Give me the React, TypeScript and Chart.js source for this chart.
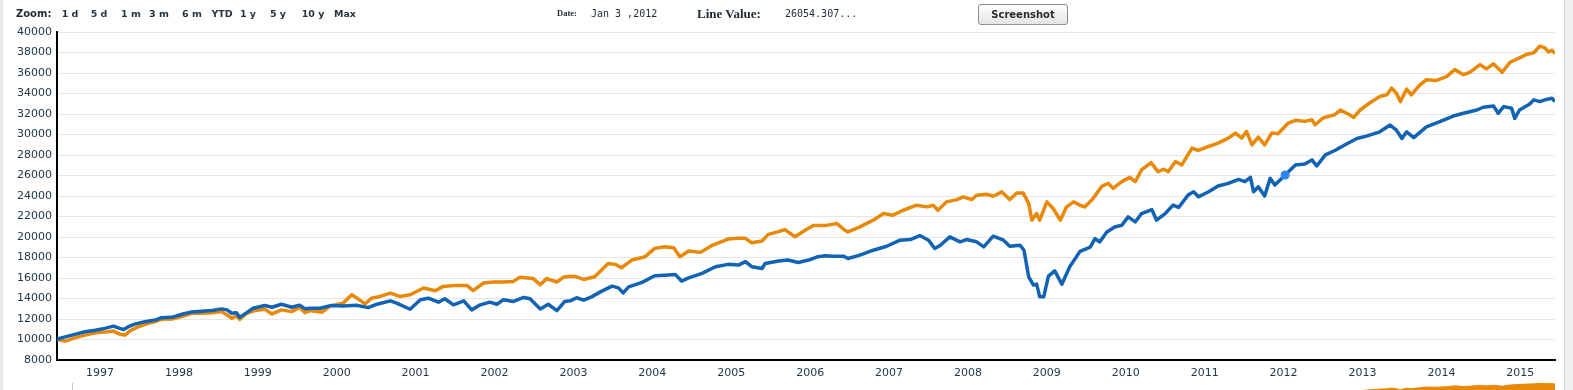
import React, { useEffect, useRef } from "react";
import { Chart, registerables } from "chart.js";

Chart.register(...registerables);

// ---- data (decimal years / index values) ----
const blueDates = [
  1996.45, 1996.56, 1996.68, 1996.81, 1996.94, 1997.06, 1997.17, 1997.25, 1997.3, 1997.36, 1997.44, 1997.57, 1997.7, 1997.78, 1997.91,
  1998.04, 1998.16, 1998.29, 1998.42, 1998.54, 1998.61, 1998.67, 1998.73, 1998.77, 1998.86, 1998.94, 1999.09, 1999.18, 1999.3, 1999.43,
  1999.53, 1999.6, 1999.66, 1999.79, 1999.92, 2000.08, 2000.25, 2000.4, 2000.51, 2000.68, 2000.76, 2000.93, 2001.06, 2001.16, 2001.29,
  2001.37, 2001.48, 2001.61, 2001.71, 2001.82, 2001.94, 2002.03, 2002.11, 2002.24, 2002.37, 2002.45, 2002.58, 2002.68, 2002.79, 2002.89,
  2002.96, 2003.04, 2003.13, 2003.23, 2003.36, 2003.49, 2003.57, 2003.63, 2003.7, 2003.87, 2004.03, 2004.16, 2004.29, 2004.37, 2004.46,
  2004.63, 2004.8, 2004.96, 2005.09, 2005.18, 2005.26, 2005.39, 2005.43, 2005.6, 2005.72, 2005.85, 2005.98, 2006.1, 2006.19, 2006.29,
  2006.42, 2006.48, 2006.63, 2006.8, 2006.97, 2007.14, 2007.27, 2007.39, 2007.5, 2007.58, 2007.65, 2007.77, 2007.9, 2007.98, 2008.11,
  2008.2, 2008.32, 2008.45, 2008.53, 2008.66, 2008.71, 2008.77, 2008.83, 2008.87, 2008.91, 2008.96, 2009.02, 2009.1, 2009.19, 2009.29,
  2009.42, 2009.55, 2009.61, 2009.67, 2009.76, 2009.86, 2009.95, 2010.03, 2010.12, 2010.2, 2010.33, 2010.39, 2010.5, 2010.6, 2010.67,
  2010.79, 2010.86, 2010.92, 2011.05, 2011.17, 2011.3, 2011.43, 2011.51, 2011.58, 2011.62, 2011.68, 2011.76, 2011.83, 2011.89, 2012.02,
  2012.15, 2012.27, 2012.36, 2012.42, 2012.53, 2012.65, 2012.78, 2012.93, 2013.05, 2013.22, 2013.35, 2013.43, 2013.5, 2013.56, 2013.65,
  2013.81, 2013.98, 2014.15, 2014.28, 2014.45, 2014.53, 2014.66, 2014.72, 2014.79, 2014.89, 2014.93, 2014.99, 2015.12, 2015.17, 2015.25,
  2015.31, 2015.4, 2015.44,
];
const blueValues = [
  10030, 10260, 10500, 10750, 10900, 11080, 11310, 11080, 10980, 11250, 11500, 11740, 11900, 12130, 12160,
  12460, 12690, 12760, 12820, 12990, 12890, 12560, 12620, 12160, 12620, 13050, 13310, 13150, 13440, 13150,
  13350, 12990, 13050, 13050, 13310, 13280, 13340, 13110, 13440, 13770, 13540, 12950, 13870, 14030, 13640,
  13970, 13380, 13770, 12890, 13380, 13640, 13440, 13870, 13710, 14100, 13970, 12980, 13440, 12820, 13710,
  13770, 14070, 13840, 14160, 14720, 15210, 15040, 14550, 15140, 15570, 16220, 16280, 16350, 15700, 16020,
  16450, 17100, 17330, 17260, 17590, 17100, 16930, 17420, 17650, 17750, 17520, 17750, 18080, 18170, 18130,
  18130, 17900, 18230, 18710, 19100, 19690, 19750, 20140, 19690, 18880, 19200, 20010, 19530, 19750, 19530,
  19040, 20080, 19690, 19100, 19200, 18710, 16110, 15300, 15400, 14160, 14160, 16180, 16700, 15400, 17090,
  18600, 19020, 19840, 19510, 20490, 20980, 21140, 21960, 21470, 22290, 22680, 21640, 22290, 23110, 22880,
  24090, 24410, 23920, 24410, 24970, 25230, 25620, 25400, 25820, 24410, 24900, 23990, 25720, 25070, 26054,
  27030, 27130, 27520, 26930, 28010, 28440, 29000, 29610, 29840, 30260, 30920, 30430, 29610, 30260, 29700,
  30750, 31250, 31800, 32070, 32390, 32660, 32790, 32070, 32720, 32560, 31570, 32390, 32980, 33380, 33210,
  33380, 33540, 33210,
];

const orangeDates = [
  1996.45, 1996.56, 1996.68, 1996.81, 1996.94, 1997.06, 1997.17, 1997.25, 1997.32, 1997.38, 1997.49, 1997.61, 1997.7, 1997.78, 1997.91,
  1998.04, 1998.16, 1998.29, 1998.42, 1998.54, 1998.61, 1998.67, 1998.73, 1998.77, 1998.86, 1998.96, 1999.09, 1999.18, 1999.3, 1999.43,
  1999.53, 1999.6, 1999.66, 1999.81, 1999.92, 2000.08, 2000.19, 2000.27, 2000.36, 2000.44, 2000.55, 2000.68, 2000.8, 2000.93, 2001.1,
  2001.25, 2001.35, 2001.52, 2001.65, 2001.73, 2001.86, 2001.99, 2002.11, 2002.24, 2002.32, 2002.49, 2002.58, 2002.66, 2002.79, 2002.87,
  2002.96, 2003.02, 2003.13, 2003.27, 2003.44, 2003.53, 2003.61, 2003.74, 2003.91, 2004.03, 2004.16, 2004.27, 2004.35, 2004.46, 2004.61,
  2004.75, 2004.96, 2005.09, 2005.18, 2005.26, 2005.39, 2005.47, 2005.6, 2005.68, 2005.81, 2005.94, 2006.04, 2006.19, 2006.34, 2006.44,
  2006.48, 2006.63, 2006.8, 2006.93, 2007.05, 2007.18, 2007.35, 2007.48, 2007.56, 2007.62, 2007.73, 2007.86, 2007.94, 2008.05, 2008.11,
  2008.24, 2008.32, 2008.43, 2008.53, 2008.62, 2008.7, 2008.77, 2008.81, 2008.87, 2008.91, 2009.0, 2009.08, 2009.17, 2009.25, 2009.34,
  2009.42, 2009.48, 2009.57, 2009.7, 2009.78, 2009.84, 2009.95, 2010.05, 2010.12, 2010.2, 2010.32, 2010.41, 2010.48, 2010.54, 2010.63,
  2010.71, 2010.84, 2010.92, 2011.05, 2011.17, 2011.3, 2011.39, 2011.47, 2011.53, 2011.6, 2011.68, 2011.76, 2011.85, 2011.93, 2012.06,
  2012.15, 2012.27, 2012.36, 2012.4, 2012.5, 2012.65, 2012.72, 2012.84, 2012.89, 2012.97, 2013.1, 2013.22, 2013.31, 2013.37, 2013.43,
  2013.48, 2013.56, 2013.62, 2013.71, 2013.81, 2013.94, 2014.07, 2014.17, 2014.28, 2014.36, 2014.49, 2014.57, 2014.66, 2014.77, 2014.87,
  2014.99, 2015.08, 2015.17, 2015.25, 2015.31, 2015.36, 2015.4, 2015.44,
];
const orangeValues = [
  10000, 9840, 10160, 10430, 10650, 10720, 10820, 10520, 10430, 10850, 11250, 11570, 11740, 11970, 12000,
  12230, 12560, 12560, 12620, 12720, 12400, 12070, 12300, 11970, 12560, 12820, 12950, 12490, 12890, 12720,
  13150, 12620, 12820, 12660, 13280, 13540, 14360, 13970, 13480, 14030, 14200, 14530, 14200, 14360, 15020,
  14760, 15180, 15280, 15280, 14760, 15510, 15610, 15610, 15670, 16070, 15940, 15350, 15940, 15610, 16070,
  16170, 16150, 15860, 16120, 17420, 17330, 17000, 17750, 18080, 18890, 19050, 18960, 18080, 18630, 18500,
  19150, 19800, 19870, 19870, 19440, 19610, 20260, 20520, 20720, 20030, 20680, 21110, 21110, 21310, 20660,
  20500, 20990, 21640, 22290, 22130, 22610, 23100, 22940, 23100, 22610, 23430, 23650, 23910, 23650, 24080,
  24170, 23980, 24400, 23650, 24300, 24300, 23260, 21640, 22290, 21640, 23430, 22780, 21640, 22940, 23430,
  23100, 22940, 23600, 24970, 25230, 24740, 25400, 25820, 25400, 26540, 27260, 26380, 26610, 26380, 27360,
  27030, 28670, 28440, 28830, 29160, 29650, 30140, 29650, 30300, 28990, 29740, 28990, 30140, 30070, 31120,
  31380, 31280, 31440, 30950, 31610, 31940, 32390, 31900, 31670, 32390, 33120, 33710, 33870, 34530, 34030,
  33210, 34430, 33870, 34690, 35350, 35280, 35670, 36330, 35840, 36070, 36820, 36400, 36890, 36070, 37050,
  37480, 37810, 37970, 38630, 38460, 38040, 38230, 37900,
];

const yearTicks = [1997, 1998, 1999, 2000, 2001, 2002, 2003, 2004, 2005, 2006, 2007, 2008, 2009, 2010, 2011, 2012, 2013, 2014, 2015];
const zoomButtons = ["1 d", "5 d", "1 m", "3 m", "6 m", "YTD", "1 y", "5 y", "10 y", "Max"];
const hoverDate = 2012.02;
const hoverDateLabel = "Jan 3 ,2012";
const hoverValueLabel = "26054.307...";

// ---- scale settings ----
const X_MIN = 1996.455;
const X_MAX = 2015.44;
const Y_MIN = 8000;
const Y_MAX = 40000;
const Y_STEP = 2000;
const NAV_MIN = 9800;
const NAV_MAX = 38700;

// ---- styles ----
const BLUE = "#1263b3";
const ORANGE = "#e8890a";
const LABEL_COLOR = "#22384a";
const zoomButtonX = [70, 99, 131, 159, 192, 222, 248, 278, 313, 345];

const toXY = (xs: number[], ys: number[]) => xs.map((x, i) => ({ x, y: ys[i] }));

export default function App() {
  const mainRef = useRef<HTMLCanvasElement | null>(null);
  const navRef = useRef<HTMLCanvasElement | null>(null);

  useEffect(() => {
    const font = { family: "'DejaVu Sans', Verdana, sans-serif", size: 11 };
    const main = new Chart(mainRef.current as HTMLCanvasElement, {
      type: "line",
      data: {
        datasets: [
          {
            label: "Blue",
            data: toXY(blueDates, blueValues),
            borderColor: BLUE,
            borderWidth: 3.5,
            borderJoinStyle: "round",
            tension: 0,
            pointRadius: (c: any) => (c.raw && c.raw.x === hoverDate ? 4.5 : 0),
            pointBackgroundColor: "#2b86f2",
            pointBorderWidth: 0,
            pointHoverRadius: 0,
          },
          {
            label: "Orange",
            data: toXY(orangeDates, orangeValues),
            borderColor: ORANGE,
            borderWidth: 3.5,
            borderJoinStyle: "round",
            tension: 0,
            pointRadius: 0,
          },
        ],
      },
      options: {
        animation: false,
        responsive: false,
        maintainAspectRatio: false,
        events: [],
        layout: { padding: { top: 32, left: 0, right: 18, bottom: 0 } },
        plugins: { legend: { display: false }, tooltip: { enabled: false } },
        scales: {
          x: {
            type: "linear",
            min: X_MIN,
            max: X_MAX,
            grid: { display: false, drawTicks: false },
            border: { display: true, color: "#000", width: 2 },
            ticks: {
              padding: 7,
              color: LABEL_COLOR,
              font,
              autoSkip: false,
              maxRotation: 0,
              callback: (v: any) => String(v),
            },
            afterBuildTicks: (s: any) => {
              s.ticks = yearTicks.map((v) => ({ value: v }));
            },
            afterFit: (s: any) => {
              s.height = 20;
            },
          },
          y: {
            min: Y_MIN,
            max: Y_MAX,
            ticks: {
              stepSize: Y_STEP,
              padding: 5,
              color: LABEL_COLOR,
              font,
              callback: (v: any) => String(v),
            },
            grid: { color: "#e6e6e6", lineWidth: 1, drawTicks: false },
            border: { color: "#000", width: 2 },
            afterFit: (s: any) => {
              s.width = 57;
            },
          },
        },
      },
    } as any);

    const nav = new Chart(navRef.current as HTMLCanvasElement, {
      type: "line",
      data: {
        datasets: [
          {
            data: toXY(orangeDates, orangeValues),
            borderColor: ORANGE,
            backgroundColor: ORANGE,
            borderWidth: 1,
            fill: "start",
            pointRadius: 0,
            tension: 0,
          },
        ],
      },
      options: {
        animation: false,
        responsive: false,
        maintainAspectRatio: false,
        events: [],
        layout: { padding: { top: 5, left: 57, right: 18, bottom: 5 } },
        plugins: { legend: { display: false }, tooltip: { enabled: false } },
        scales: {
          x: { type: "linear", display: false, min: X_MIN, max: X_MAX },
          y: { display: false, min: NAV_MIN, max: NAV_MAX },
        },
      },
    } as any);

    return () => {
      main.destroy();
      nav.destroy();
    };
  }, []);

  const txt: React.CSSProperties = { position: "absolute", whiteSpace: "nowrap", lineHeight: 1 };

  return (
    <div
      style={{
        position: "absolute",
        left: 0,
        top: 0,
        width: 1573,
        height: 390,
        overflow: "hidden",
        background: "#fff",
      }}
    >
      <canvas ref={mainRef} width={1573} height={380} style={{ position: "absolute", left: 0, top: 0, display: "block" }} />
      <canvas ref={navRef} width={1573} height={45} style={{ position: "absolute", left: 0, top: 378, display: "block" }} />

      {/* toolbar */}
      <span
        style={{ ...txt, left: 16, top: 9, fontFamily: "'DejaVu Sans', Verdana, sans-serif", fontWeight: "bold", fontSize: 10, color: "#1e2a30" }}
      >
        Zoom:
      </span>
      {zoomButtons.map((b, i) => (
        <span
          key={b}
          style={{
            ...txt,
            left: zoomButtonX[i],
            top: 9,
            transform: "translateX(-50%)",
            fontFamily: "'DejaVu Sans', Verdana, sans-serif",
            fontWeight: "bold",
            fontSize: 9.5,
            color: "#263640",
          }}
        >
          {b}
        </span>
      ))}
      <span style={{ ...txt, left: 557, top: 9, fontFamily: "'Liberation Serif', serif", fontWeight: "bold", fontSize: 8.5, color: "#1e2a30" }}>
        Date:
      </span>
      <span style={{ ...txt, left: 591, top: 9, fontFamily: "'DejaVu Sans Mono', monospace", fontSize: 10, color: "#1e2a30" }}>
        {hoverDateLabel}
      </span>
      <span style={{ ...txt, left: 697, top: 7, fontFamily: "'Liberation Serif', serif", fontWeight: "bold", fontSize: 13, color: "#1e2a30" }}>
        Line Value:
      </span>
      <span style={{ ...txt, left: 785, top: 9, fontFamily: "'DejaVu Sans Mono', monospace", fontSize: 10, color: "#1e2a30" }}>
        {hoverValueLabel}
      </span>
      <div
        style={{
          position: "absolute",
          left: 978,
          top: 4,
          width: 88,
          height: 19,
          border: "1px solid #8c8c8c",
          borderRadius: 3,
          background: "linear-gradient(#ffffff, #e4e4e4)",
          boxSizing: "content-box",
          display: "flex",
          alignItems: "center",
          justifyContent: "center",
          fontFamily: "'DejaVu Sans', Verdana, sans-serif",
          fontWeight: "bold",
          fontSize: 10,
          color: "#2a2a2a",
        }}
      >
        Screenshot
      </div>

      {/* frame decorations */}
      <div style={{ position: "absolute", left: 0, top: 0, width: 3, height: 390, background: "#e9e9e9" }} />
      <div style={{ position: "absolute", left: 1564, top: 0, width: 9, height: 390, background: "#efefef", borderLeft: "1px solid #d6d6d6" }} />
      <div style={{ position: "absolute", left: 72, top: 383, width: 1, height: 7, background: "#c8c8c8" }} />
    </div>
  );
}
